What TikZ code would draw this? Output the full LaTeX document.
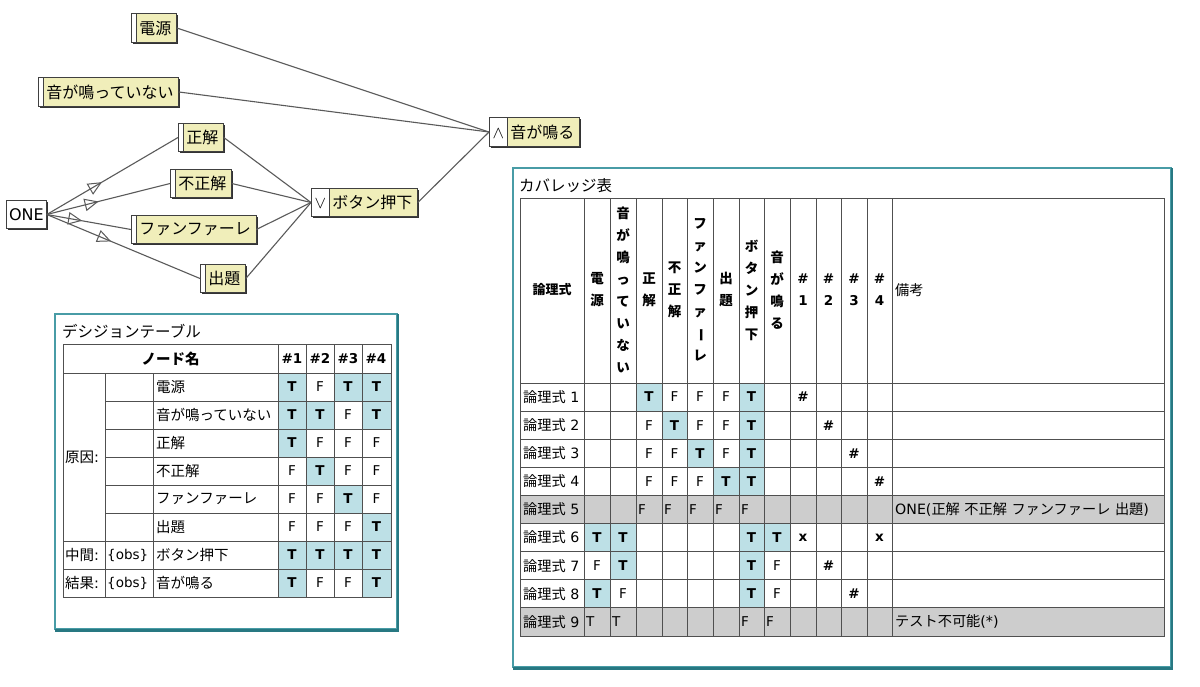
\documentclass[tikz,border=0pt]{standalone}
\usepackage{fontspec}
\setmainfont{Noto Sans CJK JP}
\newfontfamily\lat{DejaVu Sans}
\usetikzlibrary{arrows.meta,decorations.markings,shadows}
\definecolor{nodeyellow}{RGB}{240,238,186}
\definecolor{cellblue}{RGB}{189,224,230}
\definecolor{cellgrey}{RGB}{205,205,205}
\definecolor{frameteal}{RGB}{72,156,166}
\definecolor{framedark}{RGB}{40,120,130}
\definecolor{edgegrey}{RGB}{90,90,90}
\definecolor{gridgrey}{RGB}{80,80,80}
\newcommand\nfont{\fontsize{16}{16}\selectfont}
\newcommand\dfont{\fontsize{14.5}{14.5}\selectfont}
\newcommand\cfont{\fontsize{14.2}{14.2}\selectfont}
\newcommand\lfont{\fontsize{13.5}{13.5}\selectfont}
\newcommand\tfont{\fontsize{15.5}{15.5}\selectfont}
\def\cx{{520,584,610,636,662,687,713,739,764,790,816,841,867,892,1164}}
\def\dx{{278,306,334,362,391}}
\newcommand\covcell[3]{%
 \pgfmathsetmacro\xa{\cx[#2]}%
 \pgfmathsetmacro\xb{\cx[#2+1]}%
 \pgfmathsetmacro\ya{383+28.1*(#1-1)}%
 \pgfmathsetmacro\yb{\ya+28.1}%
 \pgfmathsetmacro\xm{(\xa+\xb)/2}%
 \pgfmathsetmacro\ym{(\ya+\yb)/2}%
 \if#3T\fill[cellblue] (\xa,\ya) rectangle (\xb,\yb);
   \node[cval,font=\lfont\bfseries] (cv-#1-#2) at (\xm,\ym) {\lat T};\fi
 \if#3F\node[cval] (cv-#1-#2) at (\xm,\ym) {\lat\lfont F};\fi
 \if#3H\node[cval,font=\lfont\bfseries] (cv-#1-#2) at (\xm,\ym) {\lat\#};\fi
 \if#3X\node[cval,font=\lfont\bfseries] (cv-#1-#2) at (\xm,\ym) {\lat x};\fi}
\newcommand\covleft[3]{%
 \pgfmathsetmacro\xa{\cx[#2]}%
 \pgfmathsetmacro\ym{383+28.1*(#1-1)+14.05}%
 \node[cval,anchor=west] (cl-#1-#2) at (\xa+2,\ym) {\lat\lfont #3};}
\newcommand\dtcell[3]{%
 \pgfmathsetmacro\xa{\dx[#2-1]}%
 \pgfmathsetmacro\xb{\dx[#2]}%
 \pgfmathsetmacro\ya{373+28*(#1-1)}%
 \pgfmathsetmacro\yb{\ya+28}%
 \pgfmathsetmacro\xm{(\xa+\xb)/2}%
 \pgfmathsetmacro\ym{(\ya+\yb)/2}%
 \if#3T\fill[cellblue] (\xa,\ya) rectangle (\xb,\yb);
   \node[dval,font=\lfont\bfseries] (dv-#1-#2) at (\xm,\ym) {\lat T};%
 \else\node[dval] (dv-#1-#2) at (\xm,\ym) {\lat\lfont F};\fi}
\begin{document}
\begin{tikzpicture}[x=1pt,y=-1pt,
 gnode/.style={draw=black!75, line width=0.8pt, inner xsep=0pt, inner ysep=0pt,
   minimum height=28.5pt, font=\nfont,
   drop shadow={shadow xshift=1.6pt, shadow yshift=-1.6pt, fill=black!80, opacity=1}},
 leaf/.style={gnode, fill=nodeyellow, path picture={
   \fill[white] (path picture bounding box.north west) rectangle ([xshift=5pt]path picture bounding box.south west);
   \draw[black!75, line width=0.8pt] ([xshift=5pt]path picture bounding box.north west) -- ([xshift=5pt]path picture bounding box.south west);}},
 logic/.style={gnode, fill=nodeyellow, path picture={
   \fill[white] (path picture bounding box.north west) rectangle ([xshift=18pt]path picture bounding box.south west);
   \draw[black!75, line width=0.8pt] ([xshift=18pt]path picture bounding box.north west) -- ([xshift=18pt]path picture bounding box.south west);}},
 onenode/.style={gnode, fill=white, minimum width=40pt},
 edge/.style={draw=edgegrey, line width=1.1pt},
 onearrow/.style={postaction={decorate}, decoration={markings,
   mark=at position 0.42 with {\arrow{Triangle[open, length=14pt, width=12.5pt, line width=1pt]}}}},
 cval/.style={inner sep=0pt, font=\cfont, text=black},
 dval/.style={inner sep=0pt, font=\dfont, text=black},
 grid/.style={draw=gridgrey, line width=0.8pt},
 vhead/.style={inner sep=0pt, align=center, font={\fontsize{13.5}{22}\selectfont\bfseries}},
]
\fill[white] (0,0) rectangle (1200,686);
\useasboundingbox (0,0) rectangle (1200,686);

% ---------- graph ----------
\node[leaf, anchor=west] (dengen) at (131,28) {\hspace*{8pt}電源\hspace*{5pt}};
\node[leaf, anchor=west] (otenai) at (38,92) {\hspace*{8pt}音が鳴っていない\hspace*{5pt}};
\node[leaf, anchor=west] (seikai) at (178,137.5) {\hspace*{8pt}正解\hspace*{5pt}};
\node[leaf, anchor=west] (fuseikai) at (170,183.5) {\hspace*{8pt}不正解\hspace*{5pt}};
\node[leaf, anchor=west] (fanfare) at (131,229.5) {\hspace*{8pt}ファンファーレ\hspace*{5pt}};
\node[leaf, anchor=west] (shutsudai) at (200,278.5) {\hspace*{8pt}出題\hspace*{5pt}};
\node[onenode, anchor=west] (one) at (6,214.5) {\lat ONE};
\node[logic, anchor=west] (button) at (311,202.5) {\makebox[18pt]{$\vee$}\hspace*{3pt}ボタン押下\hspace*{5pt}};
\node[logic, anchor=west] (oto) at (489,132) {\makebox[18pt]{$\wedge$}\hspace*{3pt}音が鳴る\hspace*{5pt}};

\draw[edge] (dengen.east) -- (oto.west);
\draw[edge] (otenai.east) -- (oto.west);
\draw[edge] (button.east) -- (oto.west);
\draw[edge] (seikai.east) -- (button.west);
\draw[edge] (fuseikai.east) -- (button.west);
\draw[edge] (fanfare.east) -- (button.west);
\draw[edge] (shutsudai.east) -- (button.west);
\draw[edge, onearrow] (one.east) -- (seikai.west);
\draw[edge, onearrow] (one.east) -- (fuseikai.west);
\draw[edge, onearrow] (one.east) -- (fanfare.west);
\draw[edge, onearrow] (one.east) -- (shutsudai.west);

% ---------- decision table ----------
\draw[frameteal, line width=1.2pt] (55,314) rectangle (397,629);
\draw[framedark, line width=2.4pt] (398,314) -- (398,630.5) -- (55,630.5);
\node[anchor=west, font=\tfont, inner sep=0pt] (dttitle) at (62,331) {デシジョンテーブル};

\foreach \r/\va/\vb/\vc/\vd in {1/T/F/T/T,2/T/T/F/T,3/T/F/F/F,4/F/T/F/F,5/F/F/T/F,6/F/F/F/T,7/T/T/T/T,8/T/F/F/T}
  {\dtcell{\r}{1}{\va}\dtcell{\r}{2}{\vb}\dtcell{\r}{3}{\vc}\dtcell{\r}{4}{\vd}}

\draw[grid] (63,344) rectangle (391,597);
\draw[grid] (63,373) -- (391,373) (63,541) -- (391,541) (63,569) -- (391,569);
\foreach \y in {401,429,457,485,513} \draw[grid] (105,\y) -- (391,\y);
\foreach \x in {105,153} \draw[grid] (\x,373) -- (\x,597);
\foreach \x in {278,306,334,362} \draw[grid] (\x,344) -- (\x,597);

\node[dval, font=\dfont\bfseries] (dthead) at (170.5,358.5) {ノード名};
\foreach \h [count=\cc] in {1,2,3,4}
  \node[dval, font=\lfont\bfseries] (dth-\cc) at ({264+28*\cc},358.5) {\lat\#\h};
\foreach \n [count=\r] in {電源,音が鳴っていない,正解,不正解,ファンファーレ,出題,ボタン押下,音が鳴る}
  \node[dval, anchor=west] (dtn-\r) at (156,{373+28*(\r-1)+14}) {\n};
\node[dval, anchor=west] (dtcause) at (65,457) {原因{\lat :}};
\node[dval, anchor=west] (dtmid) at (65,555) {中間{\lat :}};
\node[dval, anchor=west] (dtres) at (65,583) {結果{\lat :}};
\node[dval, anchor=west] (dtobs1) at (107,555) {\lat\lfont\{obs\}};
\node[dval, anchor=west] (dtobs2) at (107,583) {\lat\lfont\{obs\}};

% ---------- coverage table ----------
\draw[frameteal, line width=1.2pt] (513,168) rectangle (1171,667);
\draw[framedark, line width=2.4pt] (1172,168) -- (1172,668.5) -- (513,668.5);
\node[anchor=west, font=\tfont, inner sep=0pt] (cvtitle) at (519,186) {カバレッジ表};

\fill[cellgrey] (520,495.4) rectangle (1164,523.5);
\fill[cellgrey] (520,607.8) rectangle (1164,635.9);

\foreach \v [count=\cc] in {-,-,T,F,F,F,T,-,H,-,-,-} {\covcell{1}{\cc}{\v}}
\foreach \v [count=\cc] in {-,-,F,T,F,F,T,-,-,H,-,-} {\covcell{2}{\cc}{\v}}
\foreach \v [count=\cc] in {-,-,F,F,T,F,T,-,-,-,H,-} {\covcell{3}{\cc}{\v}}
\foreach \v [count=\cc] in {-,-,F,F,F,T,T,-,-,-,-,H} {\covcell{4}{\cc}{\v}}
\foreach \v [count=\cc] in {T,T,-,-,-,-,T,T,X,-,-,X} {\covcell{6}{\cc}{\v}}
\foreach \v [count=\cc] in {F,T,-,-,-,-,T,F,-,H,-,-} {\covcell{7}{\cc}{\v}}
\foreach \v [count=\cc] in {T,F,-,-,-,-,T,F,-,-,H,-} {\covcell{8}{\cc}{\v}}
\foreach \cc in {3,...,7} {\covleft{5}{\cc}{F}}
\covleft{9}{1}{T}\covleft{9}{2}{T}\covleft{9}{7}{F}\covleft{9}{8}{F}

\draw[grid] (520,198) rectangle (1164,635.9);
\draw[grid] (520,383) -- (1164,383);
\foreach \k in {1,...,8} \draw[grid] (520,{383+28.1*\k}) -- (1164,{383+28.1*\k});
\foreach \k in {1,...,13} {\pgfmathsetmacro\xa{\cx[\k]}\draw[grid] (\xa,198) -- (\xa,635.9);}

\node[inner sep=0pt, font=\fontsize{13}{13}\selectfont\bfseries] (cvh0) at (552,290) {論理式};
\foreach \t [count=\cc] in {{電\\源},{音\\が\\鳴\\っ\\て\\い\\な\\い},{正\\解},{不\\正\\解},
   {フ\\ァ\\ン\\フ\\ァ\\\rotatebox[origin=c]{-90}{ー}\\レ},{出\\題},{ボ\\タ\\ン\\押\\下},{音\\が\\鳴\\る},
   {{\lat\#}\\{\lat 1}},{{\lat\#}\\{\lat 2}},{{\lat\#}\\{\lat 3}},{{\lat\#}\\{\lat 4}}}
  {\pgfmathsetmacro\xa{\cx[\cc]}
   \pgfmathsetmacro\xb{\cx[\cc+1]}
   \pgfmathsetmacro\xm{(\xa+\xb)/2}
   \node[vhead] (cvh-\cc) at (\xm,290) {\t};}
\node[cval, anchor=west] (cvhnote) at (895,290) {備考};
\foreach \k in {1,...,9}
  \node[cval, anchor=west] (lr-\k) at (523,{383+28.1*(\k-1)+14.05}) {論理式{\lat\ \k}};
\node[cval, anchor=west] (rm5) at (895,509.45)
  {{\lat ONE(}正解{\lat\ }不正解{\lat\ }ファンファーレ{\lat\ }出題{\lat )}};
\node[cval, anchor=west] (rm9) at (895,621.85) {テスト不可能{\lat (*)}};
\end{tikzpicture}
\end{document}
